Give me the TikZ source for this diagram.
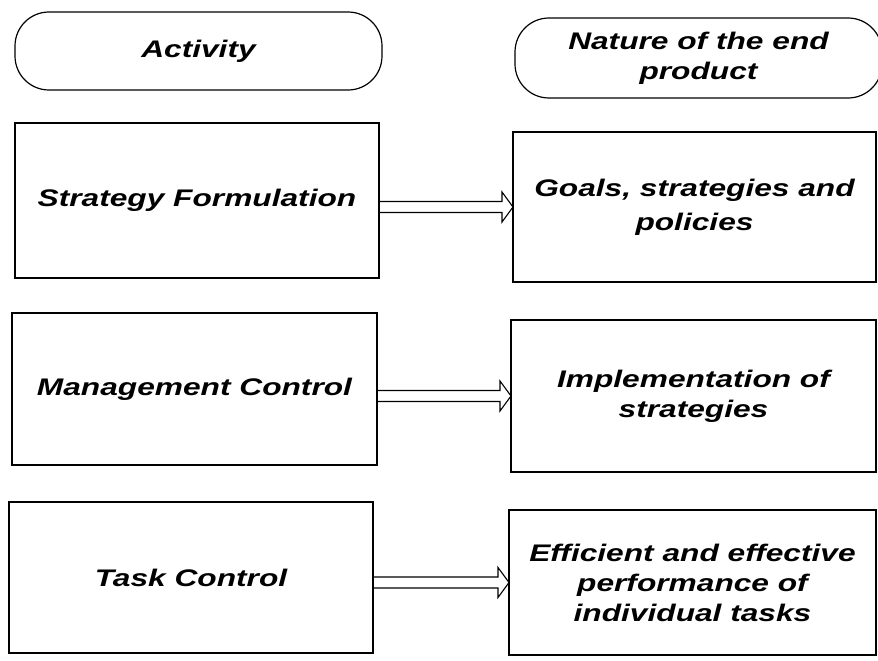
\documentclass[tikz,border=0pt]{standalone}
\usepackage{fontspec}
\newfontfamily\labelfont{Liberation Sans}[FakeStretch=1.32]
\usetikzlibrary{calc}

\tikzset{
  every node/.style={inner sep=0pt, outer sep=0pt, align=center,
    font=\labelfont\bfseries\itshape\fontsize{24}{30}\selectfont},
  stepbox/.style={draw, line width=1.2pt},
  headbox/.style={draw, line width=1.2pt, rounded corners=34pt},
  arrowline/.style={line width=1.1pt, line join=miter},
}

% hollow double-line arrow from the right side of #1 to the left side of #2
\newcommand\hollowarrow[2]{%
  \draw[arrowline]
    ($(#1.east |- #2.west)+(0,-5.5)$)
    -- ($(#2.west)+(-11,-5.5)$)
    -- ($(#2.west)+(-11,-15)$)
    -- (#2.west)
    -- ($(#2.west)+(-11,15)$)
    -- ($(#2.west)+(-11,5.5)$)
    -- ($(#1.east |- #2.west)+(0,5.5)$);
}

\begin{document}
\begin{tikzpicture}[x=1pt, y=-1pt]
  \useasboundingbox (0,0) rectangle (878,661);
  \fill[white] (0,0) rectangle (878,661);

  % column headings
  \node[headbox, minimum width=367pt, minimum height=78pt] (h1) at (198.5,51) {Activity};
  \node[headbox, minimum width=367pt, minimum height=80pt] (h2) at (698.5,58) {Nature of the end\\product};

  % activities
  \node[stepbox, minimum width=364pt, minimum height=155pt] (a1) at (197,200.5) {Strategy Formulation};
  \node[stepbox, minimum width=365pt, minimum height=152pt] (a2) at (194.5,389) {Management Control};
  \node[stepbox, minimum width=364pt, minimum height=151pt] (a3) at (191,577.5) {Task Control};

  % end products
  \node[stepbox, minimum width=363pt, minimum height=150pt] (p1) at (694.5,207) {Goals, strategies and\\[4pt]policies};
  \node[stepbox, minimum width=365pt, minimum height=152pt] (p2) at (693.5,396) {Implementation of\\strategies};
  \node[stepbox, minimum width=367pt, minimum height=145pt] (p3) at (692.5,582.5) {Efficient and effective\\performance of\\individual tasks};

  % connectors
  \hollowarrow{a1}{p1}
  \hollowarrow{a2}{p2}
  \hollowarrow{a3}{p3}
\end{tikzpicture}
\end{document}
